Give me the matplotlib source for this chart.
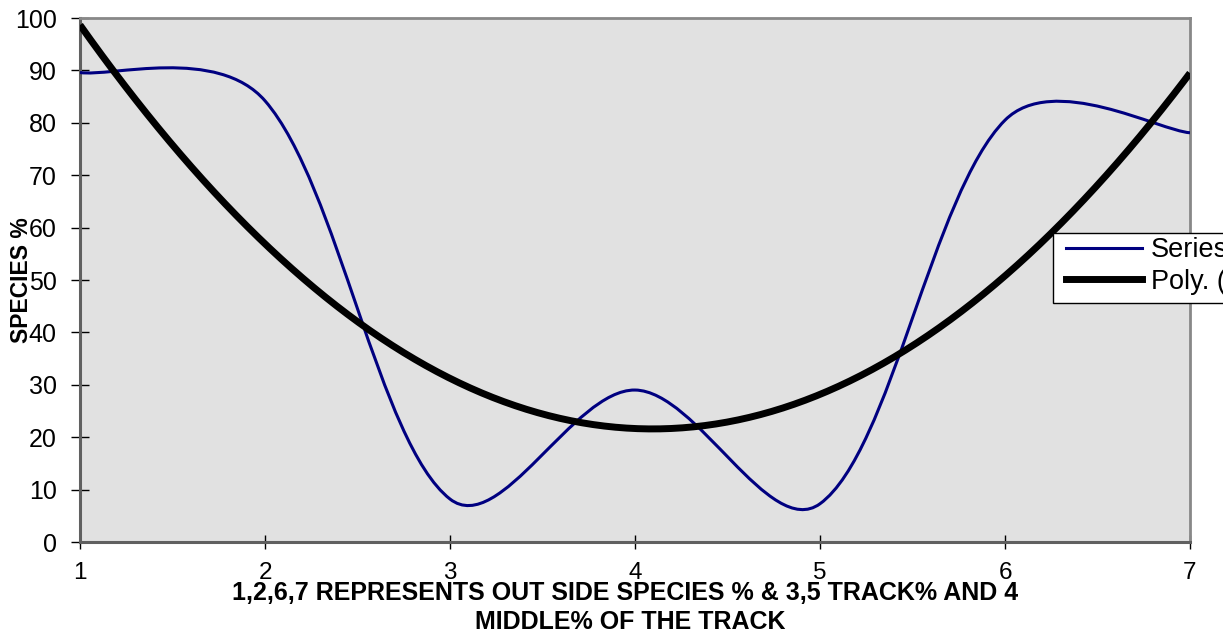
import matplotlib
matplotlib.use("Agg")
import matplotlib.pyplot as plt
import numpy as np
from matplotlib.path import Path
from matplotlib.patches import PathPatch, Rectangle
from matplotlib.lines import Line2D

# data
x_pos = [1, 2, 3, 4, 5, 6, 7]
species = [89.6, 84.2, 8.2, 29.0, 7.3, 80.5, 78.1]
y_ticks = [0, 10, 20, 30, 40, 50, 60, 70, 80, 90, 100]

xlab1 = "1,2,6,7 REPRESENTS OUT SIDE SPECIES % & 3,5 TRACK% AND 4"
xlab2 = "MIDDLE% OF THE TRACK"
ylab = "SPECIES %"

plt.rcParams['font.family'] = ['Liberation Sans', 'DejaVu Sans']

W, H = 1223, 632
fig = plt.figure(figsize=(W / 100, H / 100), dpi=100)
ax = fig.add_axes([80 / W, 1 - 542 / H, 1110 / W, 524 / H])
ax.set_facecolor('#e1e1e1')

# smoothed line like excel: bezier through the points, control arms
# mildly weighted by neighbouring segment lengths (screen units)
P = np.column_stack([x_pos, species]).astype(float)
sc = np.array([185.0, 5.24])
n = len(P)

def seglen(a, b):
    return np.hypot(*((b - a) * sc))

arm_in = [np.zeros(2)] * n
arm_out = [np.zeros(2)] * n
for i in range(n):
    if i == 0:
        arm_out[i] = (P[1] - P[0]) / 6
    elif i == n - 1:
        arm_in[i] = (P[i] - P[i - 1]) / 6
    else:
        t = (P[i + 1] - P[i - 1]) / 6
        dp, dn = seglen(P[i - 1], P[i]), seglen(P[i], P[i + 1])
        arm_in[i] = t * np.sqrt(2 * dp / (dp + dn))
        arm_out[i] = t * np.sqrt(2 * dn / (dp + dn))

verts = [P[0]]
codes = [Path.MOVETO]
for i in range(n - 1):
    verts += [P[i] + arm_out[i], P[i + 1] - arm_in[i + 1], P[i + 1]]
    codes += [Path.CURVE4] * 3
ax.add_patch(PathPatch(Path(verts, codes), fill=False, edgecolor='#000080', lw=2.2, zorder=3))

# 2nd order polynomial trendline
coef = np.polyfit(x_pos, species, 2)
xx = np.linspace(1, 7, 200)
ax.plot(xx, np.polyval(coef, xx), color='black', lw=5, zorder=4, solid_capstyle='butt')

ax.set_xlim(1, 7)
ax.set_ylim(0, 100)
ax.set_xticks(x_pos)
ax.set_yticks(y_ticks)
ax.tick_params(axis='x', direction='inout', length=9.5, width=1, pad=10, labelsize=17.5)
ax.tick_params(axis='y', direction='inout', length=13.5, width=1, pad=10, labelsize=18)

for s in ['top', 'right']:
    ax.spines[s].set_color('#888888')
    ax.spines[s].set_linewidth(2)
for s in ['left', 'bottom']:
    ax.spines[s].set_color('#606060')
    ax.spines[s].set_linewidth(2.2)

fig.text(625 / W, 1 - 600 / H, xlab1, ha='center', va='baseline', fontsize=18,
         fontweight='bold')
fig.text(630 / W, 1 - 629 / H, xlab2, ha='center', va='baseline', fontsize=18,
         fontweight='bold')
fig.text(22 / W, 1 - 280 / H, ylab, ha='center', va='center', rotation=90,
         fontsize=16.5, fontweight='bold')

# legend box (runs off the right edge like the original)
fig.add_artist(Rectangle((1053 / W, 1 - 303 / H), 200 / W, 70 / H,
                         transform=fig.transFigure, facecolor='white',
                         edgecolor='black', lw=1, zorder=9))
handles = [Line2D([], [], color='#000080', lw=2.2),
           Line2D([], [], color='black', lw=5)]
leg = fig.legend(handles, ['Series1', 'Poly. (Series1)'], loc='upper left',
                 bbox_to_anchor=(1066 / W, 1 - 237 / H), borderaxespad=0,
                 fontsize=19.5, handlelength=2.8, handletextpad=0.33,
                 borderpad=0, labelspacing=0.22, frameon=False)
leg.set_zorder(10)

fig.savefig('out.png', dpi=100)
